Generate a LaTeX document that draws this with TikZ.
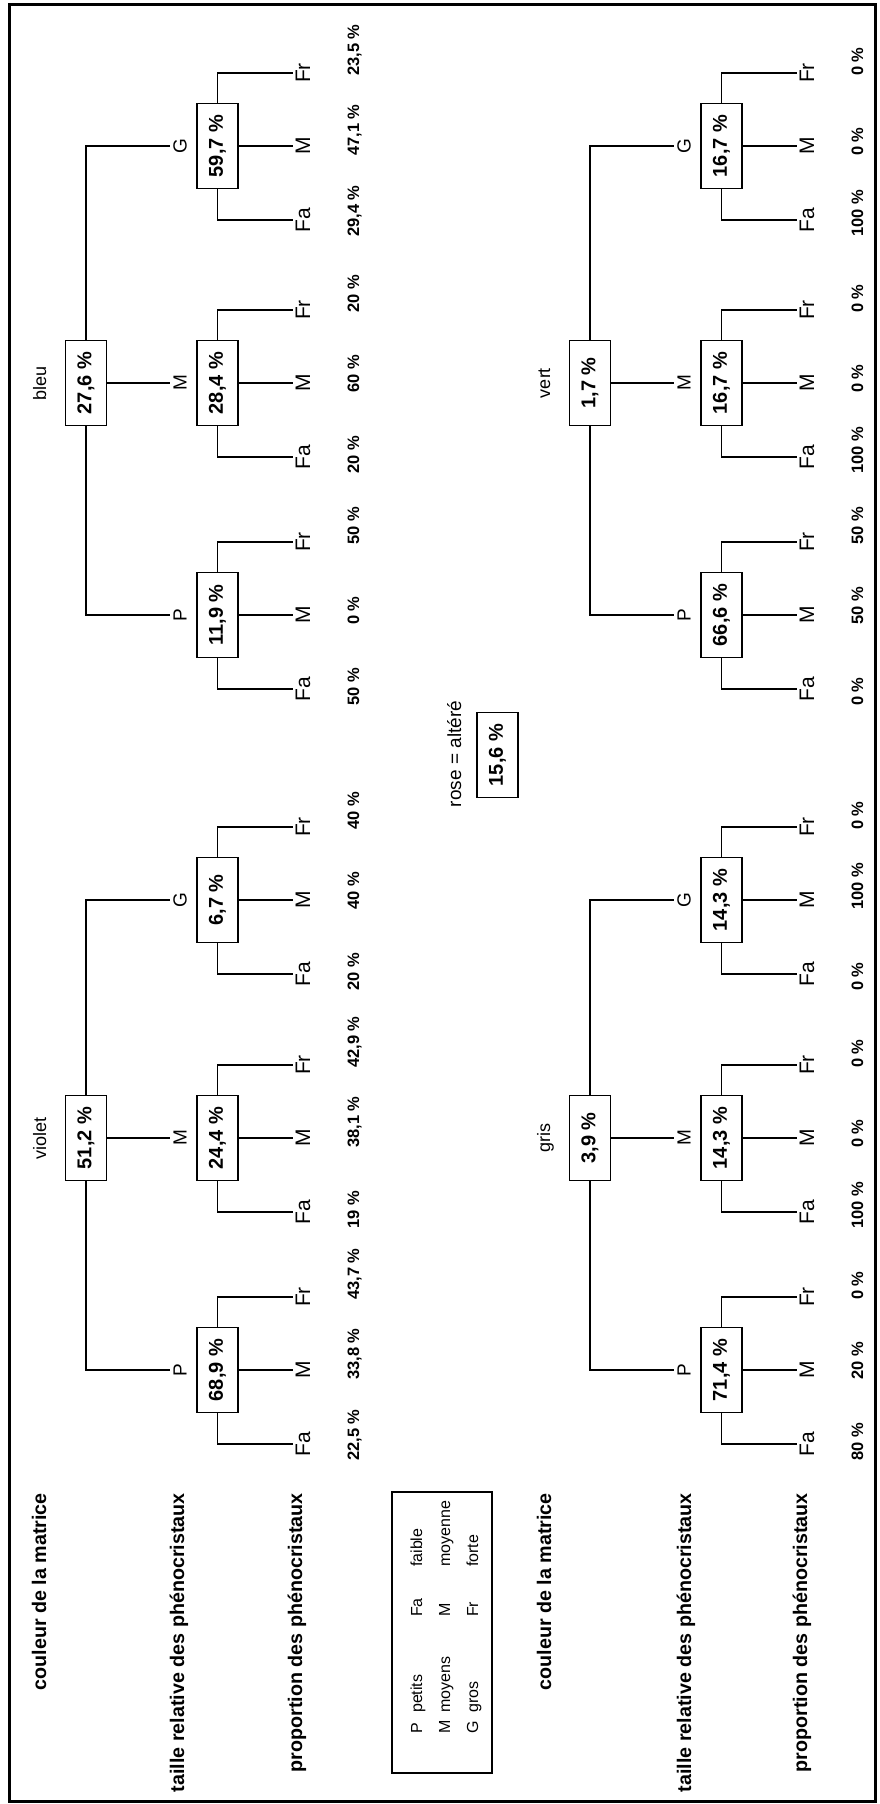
\documentclass[tikz,border=0pt]{standalone}
\usepackage{fontspec}
\setmainfont{Liberation Sans}
\tikzset{
  conn/.style={line width=1.6pt},
  pbox/.style={draw, line width=1.6pt, rotate=90, minimum width=85pt, minimum height=41pt, inner sep=0pt, font=\fontsize{20}{22}\selectfont\bfseries},
  brlab/.style={rotate=90, inner sep=0pt, outer sep=3pt, font=\fontsize{19}{21}\selectfont},
  leaflab/.style={rotate=90, inner sep=0pt, outer sep=3pt, font=\fontsize{21}{23}\selectfont},
  pct/.style={rotate=90, inner sep=0pt, anchor=base west, font=\fontsize{16.5}{18}\selectfont\bfseries},
  collab/.style={rotate=90, inner sep=0pt, anchor=base, font=\fontsize{18}{20}\selectfont},
  rowlab/.style={rotate=90, inner sep=0pt, anchor=base east, font=\fontsize{19.7}{22}\selectfont\bfseries},
  leg/.style={rotate=90, inner sep=0pt, anchor=base west, font=\fontsize{16}{18}\selectfont},
}
% #1 name, #2 dx, #3 y, #4 branch letter, #5 box text, #6 Fa, #7 M, #8 Fr
\newcommand{\mychild}[8]{%
  \node[brlab] (#1l) at (#2+180,#3) {#4};
  \node[pbox] (#1b) at (#2+217.5,#3) {#5};
  \node[leaflab] (#1fa) at (#2+303,#3+74) {Fa};
  \node[leaflab] (#1m) at (#2+303,#3) {M};
  \node[leaflab] (#1fr) at (#2+303,#3-73) {Fr};
  \draw[conn] (#1b.west) |- (#1fa.north);
  \draw[conn] (#1b.south) -- (#1m.north);
  \draw[conn] (#1b.east) |- (#1fr.north);
  \node[pct] (#1pa) at (#2+359,#3+91) {#6};
  \node[pct] (#1pm) at (#2+359,#3+10) {#7};
  \node[pct] (#1pr) at (#2+359,#3-70) {#8};
}
% #1 name, #2 dx, #3 y, #4 root text, #5 colour label
\newcommand{\mytree}[5]{%
  \node[collab] (#1c) at (#2+46,#3) {#5};
  \node[pbox] (#1r) at (#2+86,#3) {#4};
}
\newcommand{\mybranches}[1]{%
  \draw[conn] (#1r.west) |- (#1Pl.north);
  \draw[conn] (#1r.south) -- (#1Ml.north);
  \draw[conn] (#1r.east) |- (#1Gl.north);
}
\begin{document}
\begin{tikzpicture}[x=1pt,y=-1pt]
\fill[white] (0,0) rectangle (880,1804);
\useasboundingbox (0,0) rectangle (880,1804);
\draw[line width=3pt] (9,4) rectangle (875,1801);

% bleu
\mytree{bleu}{0}{383}{27,6 \%}{bleu}
\mychild{bleuP}{0}{615}{P}{11,9 \%}{50 \%}{0 \%}{50 \%}
\mychild{bleuM}{0}{383}{M}{28,4 \%}{20 \%}{60 \%}{20 \%}
\mychild{bleuG}{0}{146}{G}{59,7 \%}{29,4 \%}{47,1 \%}{23,5 \%}
\mybranches{bleu}

% violet
\mytree{violet}{0}{1138}{51,2 \%}{violet}
\mychild{violetP}{0}{1370}{P}{68,9 \%}{22,5 \%}{33,8 \%}{43,7 \%}
\mychild{violetM}{0}{1138}{M}{24,4 \%}{19 \%}{38,1 \%}{42,9 \%}
\mychild{violetG}{0}{900}{G}{6,7 \%}{20 \%}{40 \%}{40 \%}
\mybranches{violet}

% vert
\mytree{vert}{504}{383}{1,7 \%}{vert}
\mychild{vertP}{504}{615}{P}{66,6 \%}{0 \%}{50 \%}{50 \%}
\mychild{vertM}{504}{383}{M}{16,7 \%}{100 \%}{0 \%}{0 \%}
\mychild{vertG}{504}{146}{G}{16,7 \%}{100 \%}{0 \%}{0 \%}
\mybranches{vert}

% gris
\mytree{gris}{504}{1138}{3,9 \%}{gris}
\mychild{grisP}{504}{1370}{P}{71,4 \%}{80 \%}{20 \%}{0 \%}
\mychild{grisM}{504}{1138}{M}{14,3 \%}{100 \%}{0 \%}{0 \%}
\mychild{grisG}{504}{900}{G}{14,3 \%}{0 \%}{100 \%}{0 \%}
\mybranches{gris}

% rose
\node[collab, font=\fontsize{19}{21}\selectfont] (rose) at (461,754) {rose = altéré};
\node[pbox] (rosebox) at (497.5,755) {15,6 \%};

% row labels
\node[rowlab] (rlA1) at (46,1493) {couleur de la matrice};
\node[rowlab] (rlA2) at (184,1493) {taille relative des phénocristaux};
\node[rowlab] (rlA3) at (302,1493) {proportion des phénocristaux};
\node[rowlab] (rlB1) at (551,1493) {couleur de la matrice};
\node[rowlab] (rlB2) at (691,1493) {taille relative des phénocristaux};
\node[rowlab] (rlB3) at (807,1493) {proportion des phénocristaux};

% legend
\node[draw, line width=1.5pt, minimum width=100pt, minimum height=281pt, inner sep=0pt] (legbox) at (442,1632.5) {};
\node[leg] (lg11) at (422,1734) {P};
\node[leg] (lg12) at (422,1713) {petits};
\node[leg] (lg13) at (422,1617) {Fa};
\node[leg] (lg14) at (422,1567) {faible};
\node[leg] (lg21) at (450,1734) {M};
\node[leg] (lg22) at (450,1713) {moyens};
\node[leg] (lg23) at (450,1617) {M};
\node[leg] (lg24) at (450,1567) {moyenne};
\node[leg] (lg31) at (478,1734) {G};
\node[leg] (lg32) at (478,1713) {gros};
\node[leg] (lg33) at (478,1617) {Fr};
\node[leg] (lg34) at (478,1567) {forte};
\end{tikzpicture}
\end{document}
